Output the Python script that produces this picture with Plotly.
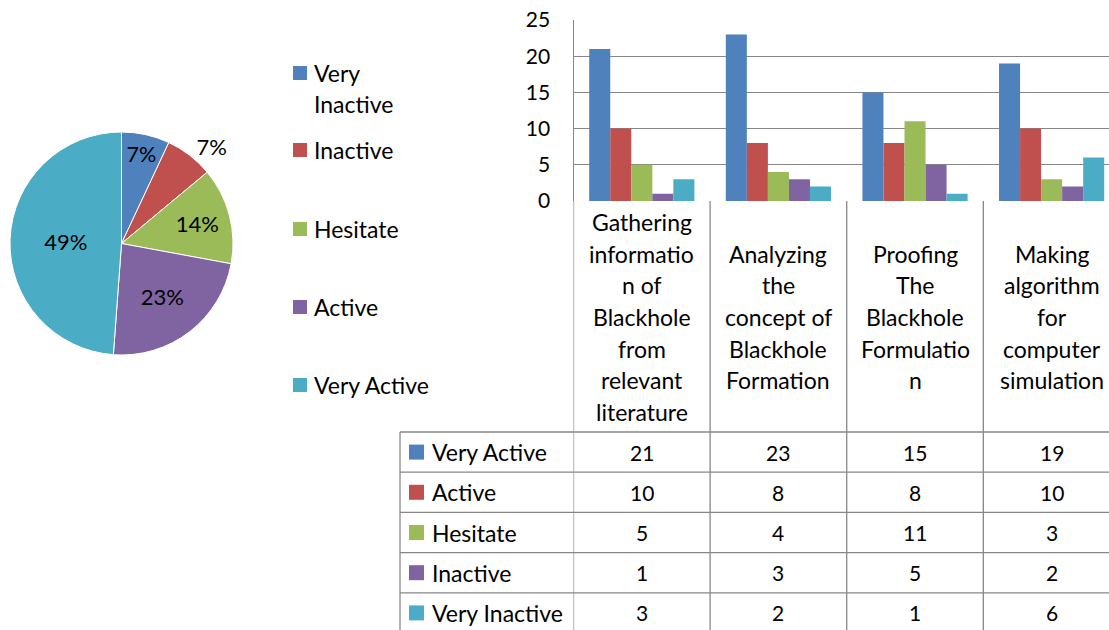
import plotly.graph_objects as go

W, H = 1109, 630
FONT = "Lato"
FS_TXT = 23   # words
FS_NUM = 21   # numbers

# ---------------- data ----------------
pie_labels = ["Very Inactive", "Inactive", "Hesitate", "Active", "Very Active"]
pie_values = [3, 3, 6, 10, 21]
pie_colors = ["#4F81BD", "#C0504D", "#9BBB59", "#8064A2", "#4BACC6"]

categories = [
    "Gathering information of Blackhole from relevant literature",
    "Analyzing the concept of Blackhole Formation",
    "Proofing The Blackhole Formulation",
    "Making algorithm for computer simulation",
]
category_lines = [
    ["Gathering", "informatio", "n of", "Blackhole", "from", "relevant", "literature"],
    ["Analyzing", "the", "concept of", "Blackhole", "Formation"],
    ["Proofing", "The", "Blackhole", "Formulatio", "n"],
    ["Making", "algorithm", "for", "computer", "simulation"],
]
series_names = ["Very Active", "Active", "Hesitate", "Inactive", "Very Inactive"]
very_active = [21, 23, 15, 19]
active = [10, 8, 8, 10]
hesitate = [5, 4, 11, 3]
inactive = [1, 3, 5, 2]
very_inactive = [3, 2, 1, 6]
series_values = [very_active, active, hesitate, inactive, very_inactive]
series_colors = ["#4F81BD", "#C0504D", "#9BBB59", "#8064A2", "#4BACC6"]
y_ticks = [0, 5, 10, 15, 20, 25]

legend_lines = [["Very", "Inactive"], ["Inactive"], ["Hesitate"], ["Active"], ["Very Active"]]

GRID = "#878787"


def px_x(x):
    return x / W


def px_y(y):
    return 1 - y / H


fig = go.Figure()

# ---------------- pie ----------------
fig.add_trace(go.Pie(
    labels=pie_labels, values=pie_values, sort=False, direction="clockwise", rotation=0,
    marker=dict(colors=pie_colors, line=dict(color="white", width=1)),
    texttemplate="%{percent:.0%}",
    textposition=["inside", "outside", "inside", "inside", "inside"],
    insidetextorientation="horizontal",
    textfont=dict(family=FONT, size=22, color="black"),
    domain=dict(x=[px_x(10), px_x(233)], y=[px_y(355), px_y(132)]),
    showlegend=False, hoverinfo="label+percent", automargin=False,
))

# ---------------- bars ----------------
xs = list(range(len(categories)))
for name, vals, col in zip(series_names, series_values, series_colors):
    fig.add_trace(go.Bar(x=xs, y=vals, name=name, marker=dict(color=col, line=dict(width=0)),
                         showlegend=False, hovertext=categories))

Y0, Y25 = 201, 20
fig.update_layout(
    barmode="group", bargap=0.23, bargroupgap=0,
    xaxis=dict(domain=[px_x(573.5), 1], range=[-0.5, 3.42], showticklabels=False,
               showgrid=False, zeroline=False, showline=False, fixedrange=True,
               automargin=False),
    yaxis=dict(domain=[px_y(Y0), px_y(Y25)], range=[0, 25], tickvals=y_ticks,
               showgrid=True, gridcolor=GRID, gridwidth=1.3, zeroline=False,
               showline=True, linecolor=GRID, linewidth=1.3,
               tickfont=dict(family=FONT, size=FS_NUM, color="black"),
               ticks="", ticklabelstandoff=18, automargin=False, fixedrange=True),
)

shapes = []
annotations = []

# table geometry (pixels)
T_TOP = 432
ROW_H = 40.2
T_LEFT = 400
n_rows = len(series_names)
T_BOT = T_TOP + ROW_H * n_rows

# category separators (from axis down through the table)
for i in range(len(categories) + 1):
    shapes.append(dict(type="line", xref="x", yref="paper", x0=i - 0.5, x1=i - 0.5,
                       y0=px_y(T_BOT), y1=px_y(Y0), line=dict(color=GRID, width=1.3)))
# table left border
shapes.append(dict(type="line", xref="paper", yref="paper", x0=px_x(T_LEFT), x1=px_x(T_LEFT),
                   y0=px_y(T_BOT), y1=px_y(T_TOP), line=dict(color=GRID, width=1.3)))
# table horizontal lines
for r in range(n_rows + 1):
    yy = T_TOP + r * ROW_H
    shapes.append(dict(type="line", xref="paper", yref="paper", x0=px_x(T_LEFT), x1=1,
                       y0=px_y(yy), y1=px_y(yy), line=dict(color=GRID, width=1.3)))

# category labels
LINE_H = 31.7
CENTER_Y = 317
for i, lines in enumerate(category_lines):
    n = len(lines)
    for j, t in enumerate(lines):
        y = CENTER_Y + (j - (n - 1) / 2) * LINE_H
        annotations.append(dict(x=i, xref="x", y=px_y(y), yref="paper", text=t, showarrow=False,
                                xanchor="center", yanchor="middle",
                                font=dict(family=FONT, size=FS_TXT, color="black")))

# table rows
for r, (name, vals, col) in enumerate(zip(series_names, series_values, series_colors)):
    yc = T_TOP + (r + 0.5) * ROW_H
    shapes.append(dict(type="rect", xref="paper", yref="paper", x0=px_x(409), x1=px_x(424),
                       y0=px_y(yc + 7.5), y1=px_y(yc - 7.5), fillcolor=col, line=dict(width=0)))
    annotations.append(dict(x=px_x(430), xref="paper", y=px_y(yc), yref="paper", text=name,
                            showarrow=False, xanchor="left", yanchor="middle",
                            font=dict(family=FONT, size=FS_TXT, color="black")))
    for i, v in enumerate(vals):
        annotations.append(dict(x=i, xref="x", y=px_y(yc), yref="paper", text=str(v),
                                showarrow=False, xanchor="center", yanchor="middle",
                                font=dict(family=FONT, size=FS_NUM, color="black")))

# ---------------- pie legend ----------------
legend_sq_y = [73, 150, 229, 307, 385]
for col, lines, yc in zip(pie_colors, legend_lines, legend_sq_y):
    shapes.append(dict(type="rect", xref="paper", yref="paper", x0=px_x(293), x1=px_x(307),
                       y0=px_y(yc + 7), y1=px_y(yc - 7), fillcolor=col, line=dict(width=0)))
    for j, t in enumerate(lines):
        annotations.append(dict(x=px_x(312), xref="paper", y=px_y(yc + j * 31.5), yref="paper",
                                text=t, showarrow=False, xanchor="left", yanchor="middle",
                                font=dict(family=FONT, size=FS_TXT, color="black")))

fig.update_layout(
    width=W, height=H, margin=dict(l=0, r=0, t=0, b=0, pad=0), autosize=False,
    paper_bgcolor="white", plot_bgcolor="white",
    shapes=shapes, annotations=annotations,
)

fig.write_html("out.html", config={"displayModeBar": False},
               post_script="document.body.style.margin='0';document.body.style.overflow='hidden';")
